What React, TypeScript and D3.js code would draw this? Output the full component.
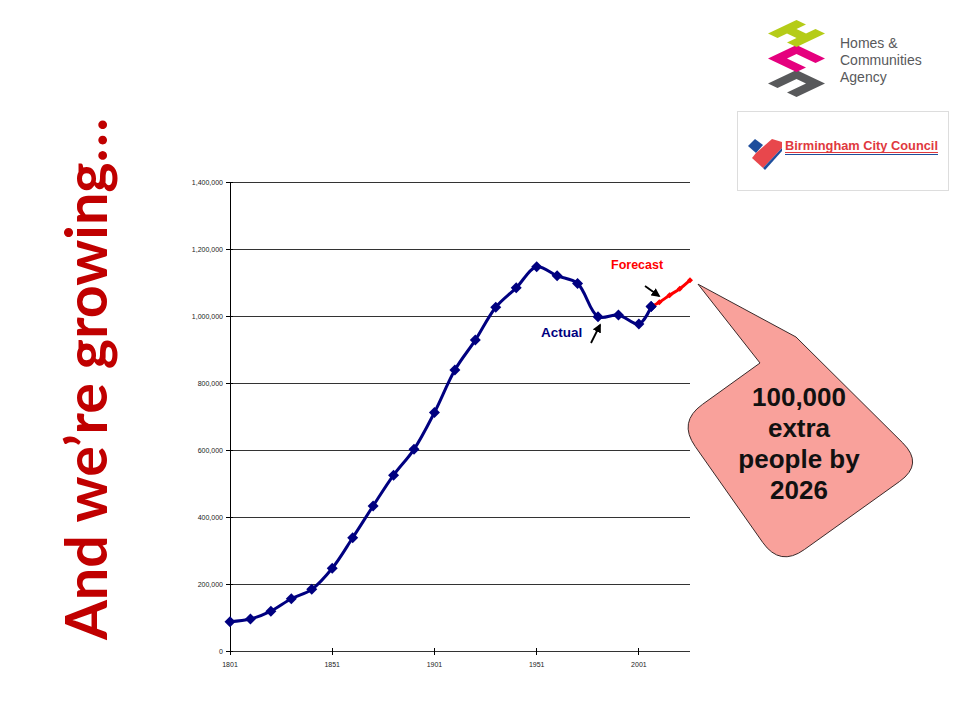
import React from 'react';
import * as d3 from 'd3';

// Birmingham population, census years
const years = [1801, 1811, 1821, 1831, 1841, 1851, 1861, 1871, 1881, 1891, 1901, 1911, 1921, 1931, 1941, 1951, 1961, 1971, 1981, 1991, 2001, 2007];
const population = [87500, 95500, 119000, 156000, 184000, 247000, 338000, 433000, 525000, 602000, 712000, 839000, 928000, 1026000, 1084000, 1147000, 1120000, 1097000, 998000, 1003000, 976000, 1028000];

// projection
const forecastYears = [2007, 2011, 2016, 2021, 2026];
const forecastPopulation = [1028000, 1041000, 1062000, 1081000, 1107000];

const yTicks = [0, 200000, 400000, 600000, 800000, 1000000, 1200000, 1400000];
const xTicks = [1801, 1851, 1901, 1951, 2001];

const calloutLines = ['100,000', 'extra', 'people by', '2026'];
const logoLines = ['Homes &', 'Communities', 'Agency'];
const title = 'And we\u2019re growing\u2026';

const W = 960;
const H = 720;
const plot = { left: 230, right: 690, top: 182, bottom: 651 };

const x = d3.scaleLinear().domain([1801, 2026]).range([plot.left, plot.right]);
const y = d3.scaleLinear().domain([0, 1400000]).range([plot.bottom, plot.top]);

const actualLine = d3.line<number>()
  .x((_, i) => x(years[i]))
  .y(d => y(d))
  .curve(d3.curveCatmullRom.alpha(0.5));

const forecastLine = d3.line<number>()
  .x((_, i) => x(forecastYears[i]))
  .y(d => y(d))
  .curve(d3.curveCatmullRom.alpha(0.5));

const diamond = (cx: number, cy: number, r: number) =>
  `M${cx},${cy - r}L${cx + r},${cy}L${cx},${cy + r}L${cx - r},${cy}Z`;

// rounded polygon for the speech bubble
type P = [number, number];
function bubblePath(apex: P): string {
  const base: P = [760, 363];
  const top: P = [796, 337];
  const corners: P[] = [[924, 464], [780, 567], [678, 422]];
  const r = 30;
  const pts: P[] = [top, ...corners, base];
  let d = `M${base[0]},${base[1]}L${apex[0]},${apex[1]}L${top[0]},${top[1]}`;
  for (let i = 1; i <= 3; i++) {
    const c = pts[i];
    const prev = pts[i - 1];
    const next = pts[i + 1];
    const u1 = [prev[0] - c[0], prev[1] - c[1]];
    const l1 = Math.hypot(u1[0], u1[1]);
    const u2 = [next[0] - c[0], next[1] - c[1]];
    const l2 = Math.hypot(u2[0], u2[1]);
    d += `L${c[0] + (u1[0] / l1) * r},${c[1] + (u1[1] / l1) * r}`;
    d += `Q${c[0]},${c[1]} ${c[0] + (u2[0] / l2) * r},${c[1] + (u2[1] / l2) * r}`;
  }
  return d + 'Z';
}

// isometric letter tiles for the HCA logo
function isoCells(topY: number, skip: string[]) {
  const T: P = [796.5, topY];
  const e1: P = [9.5, 4.5];
  const e2: P = [-9.5, 4.5];
  const cells: string[] = [];
  for (let i = 0; i < 3; i++) {
    for (let j = 0; j < 3; j++) {
      if (skip.includes(`${i}${j}`)) continue;
      const p = (a: number, b: number) => [T[0] + a * e1[0] + b * e2[0], T[1] + a * e1[1] + b * e2[1]].join(',');
      cells.push(`M${p(i, j)}L${p(i + 1, j)}L${p(i + 1, j + 1)}L${p(i, j + 1)}Z`);
    }
  }
  return cells.join('');
}

export default function App() {
  const lastX = x(forecastYears[forecastYears.length - 1]);
  const lastY = y(forecastPopulation[forecastPopulation.length - 1]);
  const axisFont = '"Liberation Sans", Arial, sans-serif';

  return (
    <svg width={W} height={H} style={{ position: 'absolute', left: 0, top: 0, background: '#fff' }}>
      <defs>
        <marker id="arrow" viewBox="0 0 10 10" refX="8" refY="5" markerWidth="5" markerHeight="5" orient="auto">
          <path d="M0,0L10,5L0,10Z" fill="#000" />
        </marker>
      </defs>
      <rect width={W} height={H} fill="#fff" />

      {/* title */}
      <text
        transform={`translate(107,640) rotate(-90)`}
        fontFamily="Lato, 'Open Sans', sans-serif"
        fontWeight="bold"
        fontSize={58}
        fill="#C00000"
        textLength={522}
        lengthAdjust="spacingAndGlyphs"
      >
        {title}
      </text>

      {/* gridlines */}
      {yTicks.map(t => (
        <line key={t} x1={plot.left} x2={plot.right} y1={y(t)} y2={y(t)} stroke="#333" strokeWidth={1} shapeRendering="crispEdges" />
      ))}
      <line x1={plot.left} x2={plot.left} y1={plot.top} y2={plot.bottom} stroke="#000" shapeRendering="crispEdges" />
      {yTicks.map(t => (
        <g key={'yt' + t}>
          <line x1={plot.left - 4} x2={plot.left + 3} y1={y(t)} y2={y(t)} stroke="#000" shapeRendering="crispEdges" />
          <text x={plot.left - 7} y={y(t) + 2.5} textAnchor="end" fontFamily={axisFont} fontSize={7} fill="#222">
            {d3.format(',')(t)}
          </text>
        </g>
      ))}
      {xTicks.map(t => (
        <g key={'xt' + t}>
          <line x1={x(t)} x2={x(t)} y1={plot.bottom - 3} y2={plot.bottom + 4} stroke="#000" shapeRendering="crispEdges" />
          <text x={x(t)} y={plot.bottom + 16} textAnchor="middle" fontFamily={axisFont} fontSize={7} fill="#222">
            {t}
          </text>
        </g>
      ))}

      {/* actual series */}
      <path d={actualLine(population) || ''} fill="none" stroke="#000080" strokeWidth={3} />
      {population.map((v, i) => (
        <path key={'m' + i} d={diamond(x(years[i]), y(v), 5.5)} fill="#000080" />
      ))}

      {/* forecast series */}
      <path d={forecastLine(forecastPopulation) || ''} fill="none" stroke="#FF0000" strokeWidth={3} />
      {forecastPopulation.slice(1).map((v, i) => (
        <path key={'f' + i} d={diamond(x(forecastYears[i + 1]), y(v), 3)} fill="#FF0000" />
      ))}
      <path d={diamond(x(years[years.length - 1]), y(population[population.length - 1]), 5.5)} fill="#000080" />

      {/* annotations */}
      <text x={611} y={269} fontFamily={axisFont} fontWeight="bold" fontSize={12.5} fill="#FF0000">Forecast</text>
      <line x1={645} y1={286} x2={659} y2={296} stroke="#000" strokeWidth={1.8} markerEnd="url(#arrow)" />
      <text x={541} y={337} fontFamily={axisFont} fontWeight="bold" fontSize={13.5} fill="#000080">Actual</text>
      <line x1={591} y1={343} x2={600} y2={325} stroke="#000" strokeWidth={1.8} markerEnd="url(#arrow)" />

      {/* speech bubble */}
      <path d={bubblePath([lastX + 8, lastY + 4])} fill="#F9A19B" stroke="#3a2a2a" strokeWidth={1} />
      {calloutLines.map((t, i) => (
        <text key={t} x={799} y={406 + i * 31} textAnchor="middle" fontFamily={axisFont} fontWeight="bold" fontSize={26} fill="#111">
          {t}
        </text>
      ))}

      {/* Homes & Communities Agency logo */}
      <path d={isoCells(70, ['11', '12'])} fill="#58595B" />
      <path d={isoCells(45, ['11', '21'])} fill="#E5007E" />
      <path d={isoCells(20, ['10', '12'])} fill="#B5CC18" />
      <g fontFamily={axisFont} fontSize={14} fill="#58595B">
        {logoLines.map((t, i) => (
          <text key={t} x={840} y={48 + i * 17} fontWeight={i === 2 ? 300 : 400}>{t}</text>
        ))}
      </g>

      {/* Birmingham City Council logo */}
      <rect x={737.5} y={111.5} width={211} height={79} fill="#fff" stroke="#ddd" />
      <path d="M748,146L755,139L763,145L756,153Z" fill="#1F4E9C" />
      <path d="M756,153L772,139L782,142L782,148L763,168L752,158Z" fill="#E8474C" />
      <path d="M763,168L782,148L782,151L765,170Z" fill="#1F4E9C" />
      <text x={785} y={150} fontFamily={axisFont} fontWeight="bold" fontSize={12.5} fill="#E0393E" textLength={153} lengthAdjust="spacingAndGlyphs">
        Birmingham City Council
      </text>
      <line x1={785} x2={938} y1={152.5} y2={152.5} stroke="#E0393E" strokeWidth={1} />
      <line x1={785} x2={938} y1={154.5} y2={154.5} stroke="#1F4E9C" strokeWidth={1} />
    </svg>
  );
}
